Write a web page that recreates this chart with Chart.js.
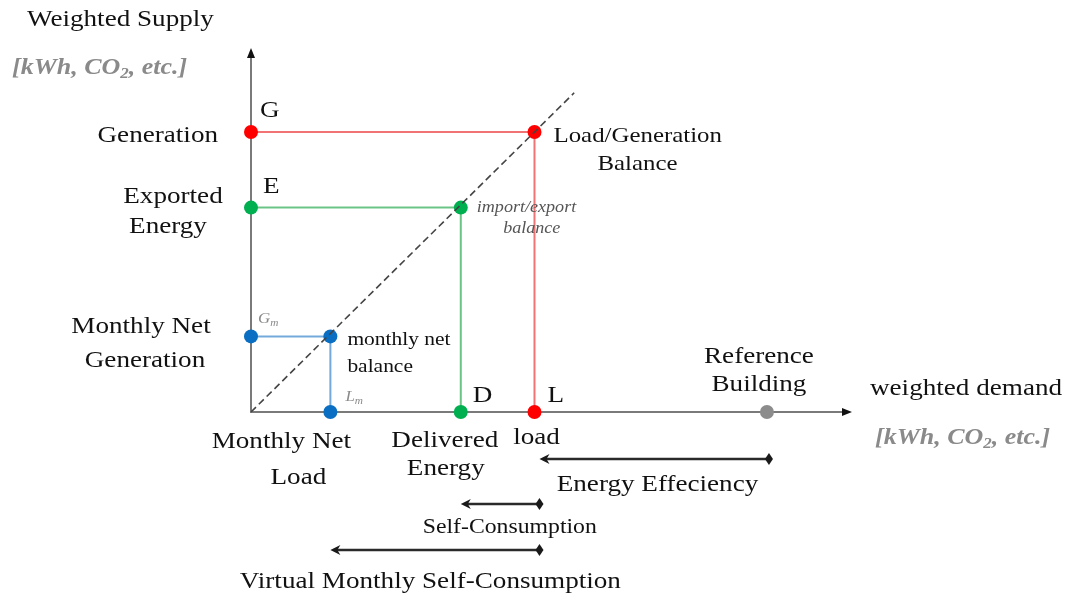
<!DOCTYPE html>
<html>
<head>
<meta charset="utf-8">
<script src="https://cdn.jsdelivr.net/npm/chart.js@4.4.0/dist/chart.umd.min.js"></script>
<style>
  html, body { margin: 0; padding: 0; background: #fff; }
</style>
</head>
<body>
<canvas id="chart" width="1078" height="595"></canvas>
<script>
// weighted supply levels (y) and the matching weighted demand levels (x)
const levelKeys = ['generation', 'exported', 'monthly'];
const supplyValues = [10, 7.3, 2.7];   // G, E, Gm
const demandValues = [10, 7.4, 2.8];   // L, D, Lm
const referenceBuilding = 18.2;
const balanceLine = [0, 11.4];          // dashed 45 degree line from origin
const axisMax = { x: 21.2, y: 13 };

// ranges shown by the bracket arrows under the demand axis
const rangeNames = ['Energy Effeciency', 'Self-Consumption', 'Virtual Monthly Self-Consumption'];
const rangeFrom = [demandValues[0], demandValues[1], demandValues[2]];
const rangeTo = [referenceBuilding, demandValues[0], demandValues[0]];
const rangeLevel = [-1.68, -3.29, -4.93];

const lineColors = ['rgba(240,90,90,0.85)', 'rgba(90,190,120,0.9)', 'rgba(100,160,215,0.9)'];
const dotColors = ['#ff0000', '#00b050', '#0a6fc2'];

const SERIF = '"Liberation Serif", "Times New Roman", serif';
const STRETCH = 1.13;

function txt(ctx, str, x, y, o = {}) {
    ctx.save();
    ctx.font = (o.italic ? 'italic ' : '') + (o.bold ? 'bold ' : '') + (o.size || 24) + 'px ' + SERIF;
    ctx.fillStyle = o.color || '#111';
    ctx.textBaseline = 'middle';
    ctx.textAlign = o.align || 'left';
    ctx.translate(x, y);
    ctx.scale(STRETCH, 1);
    ctx.fillText(str, 0, 0);
    ctx.restore();
}

// "[kWh, CO2, etc.]" with a subscript 2
function unitsLabel(ctx, x, y) {
    ctx.save();
    ctx.fillStyle = '#8a8a8a';
    ctx.textBaseline = 'middle';
    ctx.translate(x, y);
    ctx.scale(STRETCH, 1);
    ctx.font = 'italic bold 23px ' + SERIF;
    let w = 0;
    ctx.fillText('[kWh, CO', w, 0); w += ctx.measureText('[kWh, CO').width;
    ctx.font = 'italic bold 15px ' + SERIF;
    ctx.fillText('2', w, 6); w += ctx.measureText('2').width;
    ctx.font = 'italic bold 23px ' + SERIF;
    ctx.fillText(', etc.]', w, 0);
    ctx.restore();
}

function subLabel(ctx, main, sub, x, y) {
    ctx.save();
    ctx.fillStyle = '#8a8a8a';
    ctx.textBaseline = 'middle';
    ctx.translate(x, y);
    ctx.scale(STRETCH, 1);
    ctx.font = 'italic 15px ' + SERIF;
    ctx.fillText(main, 0, 0);
    const w = ctx.measureText(main).width;
    ctx.font = 'italic 10px ' + SERIF;
    ctx.fillText(sub, w, 4);
    ctx.restore();
}

const axesPlugin = {
    id: 'axes',
    beforeDatasetsDraw(chart) {
        const ctx = chart.ctx, xs = chart.scales.x, ys = chart.scales.y;
        const x0 = xs.getPixelForValue(0), y0 = ys.getPixelForValue(0);
        const xe = xs.getPixelForValue(axisMax.x), ye = ys.getPixelForValue(axisMax.y);
        ctx.save();
        ctx.strokeStyle = '#7a7a7a';
        ctx.lineWidth = 2;
        ctx.beginPath();
        ctx.moveTo(x0, ye + 6); ctx.lineTo(x0, y0); ctx.lineTo(xe - 6, y0);
        ctx.stroke();
        ctx.fillStyle = '#111';
        ctx.beginPath();
        ctx.moveTo(x0, ye); ctx.lineTo(x0 - 4, ye + 10); ctx.lineTo(x0 + 4, ye + 10); ctx.closePath();
        ctx.fill();
        ctx.beginPath();
        ctx.moveTo(xe, y0); ctx.lineTo(xe - 10, y0 - 4); ctx.lineTo(xe - 10, y0 + 4); ctx.closePath();
        ctx.fill();
        ctx.restore();
    }
};

const labelsPlugin = {
    id: 'labels',
    afterDatasetsDraw(chart) {
        const ctx = chart.ctx, xs = chart.scales.x, ys = chart.scales.y;
        const X = v => xs.getPixelForValue(v), Y = v => ys.getPixelForValue(v);
        const x0 = X(0), y0 = Y(0);
        const yG = Y(supplyValues[0]), yE = Y(supplyValues[1]), yGm = Y(supplyValues[2]);
        const xL = X(demandValues[0]), xD = X(demandValues[1]), xLm = X(demandValues[2]);
        const xR = X(referenceBuilding), xe = X(axisMax.x);

        // bracket arrows
        ctx.save();
        ctx.strokeStyle = '#2a2a2a';
        ctx.fillStyle = '#1a1a1a';
        ctx.lineWidth = 2.5;
        rangeNames.forEach((n, i) => {
            const a = X(rangeFrom[i]) + (i === 0 ? 5 : 0), b = X(rangeTo[i]) + (i === 0 ? 2 : 5), y = Y(rangeLevel[i]);
            ctx.beginPath(); ctx.moveTo(a + 4, y); ctx.lineTo(b, y); ctx.stroke();
            ctx.beginPath(); ctx.moveTo(a, y); ctx.lineTo(a + 10, y - 5); ctx.lineTo(a + 7, y); ctx.lineTo(a + 10, y + 5); ctx.closePath(); ctx.fill();
            ctx.beginPath(); ctx.moveTo(b, y - 6); ctx.lineTo(b + 4, y); ctx.lineTo(b, y + 6); ctx.lineTo(b - 4, y); ctx.closePath(); ctx.fill();
        });
        ctx.restore();

        // axis titles
        txt(ctx, 'Weighted Supply', 27, 20);
        unitsLabel(ctx, 12, 68);
        txt(ctx, 'weighted demand', xe + 18, y0 - 23);
        unitsLabel(ctx, xe + 23, y0 + 26);

        // generation
        txt(ctx, 'G', x0 + 9, yG - 21);
        txt(ctx, 'Generation', x0 - 33, yG + 4, { align: 'right' });
        txt(ctx, 'Load/Generation', xL + 19, yG + 4, { size: 22 });
        txt(ctx, 'Balance', xL + 103, yG + 32, { size: 22, align: 'center' });
        // exported
        txt(ctx, 'E', x0 + 12, yE - 21);
        txt(ctx, 'Exported', x0 - 78, yE - 11, { align: 'center' });
        txt(ctx, 'Energy', x0 - 83, yE + 19, { align: 'center' });
        txt(ctx, 'import/export', xD + 16, yE, { size: 16, italic: true, color: '#555' });
        txt(ctx, 'balance', xD + 71, yE + 21, { size: 16, italic: true, color: '#555', align: 'center' });
        // monthly
        subLabel(ctx, 'G', 'm', x0 + 7, yGm - 17);
        txt(ctx, 'Monthly Net', x0 - 110, yGm - 10, { align: 'center' });
        txt(ctx, 'Generation', x0 - 106, yGm + 24, { align: 'center' });
        txt(ctx, 'monthly net', xLm + 17, yGm + 4, { size: 19 });
        txt(ctx, 'balance', xLm + 17, yGm + 31, { size: 19 });
        subLabel(ctx, 'L', 'm', xLm + 15, y0 - 15);

        // demand side
        txt(ctx, 'D', xD + 12, y0 - 16);
        txt(ctx, 'L', xL + 13, y0 - 16);
        txt(ctx, 'Reference', xR - 8, y0 - 55, { align: 'center' });
        txt(ctx, 'Building', xR - 8, y0 - 27, { align: 'center' });
        txt(ctx, 'Monthly Net', xLm - 49, y0 + 30, { align: 'center' });
        txt(ctx, 'Load', xLm - 32, y0 + 66, { align: 'center' });
        txt(ctx, 'Delivered', xD - 16, y0 + 29, { align: 'center' });
        txt(ctx, 'Energy', xD - 15, y0 + 57, { align: 'center' });
        txt(ctx, 'load', xL + 2, y0 + 26, { align: 'center' });

        txt(ctx, rangeNames[0], xL + 123, Y(rangeLevel[0]) + 26, { align: 'center' });
        txt(ctx, rangeNames[1], xD + 49, Y(rangeLevel[1]) + 23, { align: 'center', size: 21 });
        txt(ctx, rangeNames[2], xLm + 100, Y(rangeLevel[2]) + 32, { align: 'center' });
    }
};

const datasets = [{
    data: balanceLine.map(v => ({ x: v, y: v })),
    showLine: true,
    borderColor: '#444',
    borderWidth: 1.6,
    borderDash: [7, 4],
    pointRadius: 0,
    clip: false
}];
levelKeys.forEach((k, i) => {
    datasets.push({
        label: k,
        data: [
            { x: 0, y: supplyValues[i] },
            { x: demandValues[i], y: supplyValues[i] },
            { x: demandValues[i], y: 0 }
        ],
        showLine: true,
        borderColor: lineColors[i],
        borderWidth: 2,
        pointRadius: 7,
        pointBackgroundColor: dotColors[i],
        pointBorderWidth: 0,
        clip: false
    });
});
datasets.push({
    label: 'reference',
    data: [{ x: referenceBuilding, y: 0 }],
    pointRadius: 7,
    pointBackgroundColor: '#8c8c8c',
    pointBorderWidth: 0,
    clip: false
});

new Chart(document.getElementById('chart'), {
    type: 'scatter',
    data: { datasets },
    options: {
        responsive: false,
        animation: false,
        devicePixelRatio: 1,
        layout: { padding: { left: 251, right: 226, top: 48, bottom: 183 } },
        scales: {
            x: { type: 'linear', min: 0, max: axisMax.x, display: false },
            y: { type: 'linear', min: 0, max: axisMax.y, display: false }
        },
        plugins: { legend: { display: false }, tooltip: { enabled: false } }
    },
    plugins: [axesPlugin, labelsPlugin]
});
</script>
</body>
</html>
